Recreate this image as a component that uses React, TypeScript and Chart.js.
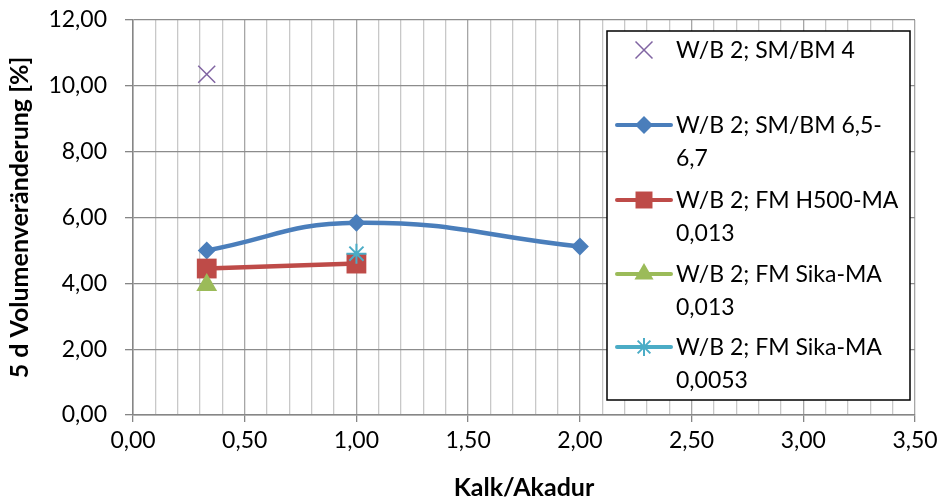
import React, { useEffect, useRef } from "react";
import { Chart, registerables } from "chart.js";

Chart.register(...registerables);

// ---- Data ----
const xSM4 = [0.33];
const ySM4 = [10.35];

const xSM65 = [0.33, 1.0, 2.0];
const ySM65 = [5.0, 5.84, 5.12];

const xH500 = [0.33, 1.0];
const yH500 = [4.45, 4.6];

const xSika013 = [0.33];
const ySika013 = [3.95];

const xSika0053 = [1.0];
const ySika0053 = [4.9];

const seriesLabels = [
  ["W/B 2; SM/BM 4"],
  ["W/B 2; SM/BM 6,5-", "6,7"],
  ["W/B 2; FM H500-MA", "0,013"],
  ["W/B 2; FM Sika-MA", "0,013"],
  ["W/B 2; FM Sika-MA", "0,0053"],
];

const xAxisTitle = "Kalk/Akadur";
const yAxisTitle = "5 d Volumenveränderung [%]";

const X_MIN = 0;
const X_MAX = 3.5;
const X_STEP = 0.1;
const Y_MIN = 0;
const Y_MAX = 12;
const Y_STEP = 2;

const COLORS = {
  purple: "#8064A2",
  blue: "#4A7EBB",
  red: "#BE4B48",
  green: "#9BBB59",
  cyan: "#4BACC6",
};

const FONT = "Lato, 'Open Sans', 'DejaVu Sans', sans-serif";
const TICK_SIZE = 23;
const TITLE_SIZE = 25;

const zip = (xs: number[], ys: number[]) => xs.map((x, i) => ({ x, y: ys[i] }));
const fmt = (v: number) => v.toFixed(2).replace(".", ",");
const isMajorX = (v: number) => Math.abs(v * 2 - Math.round(v * 2)) < 1e-6;

type Marker = "crossRot" | "rectRot" | "rect" | "triangle" | "star";

const legendDefs: { color: string; marker: Marker; line: boolean; r: number }[] = [
  { color: COLORS.purple, marker: "crossRot", line: false, r: 12 },
  { color: COLORS.blue, marker: "rectRot", line: true, r: 9 },
  { color: COLORS.red, marker: "rect", line: true, r: 12 },
  { color: COLORS.green, marker: "triangle", line: true, r: 11 },
  { color: COLORS.cyan, marker: "star", line: true, r: 9 },
];

function drawMarker(ctx: CanvasRenderingContext2D, m: Marker, x: number, y: number, r: number, color: string) {
  ctx.save();
  ctx.fillStyle = color;
  ctx.strokeStyle = color;
  ctx.beginPath();
  if (m === "rectRot") {
    ctx.moveTo(x - r, y);
    ctx.lineTo(x, y - r);
    ctx.lineTo(x + r, y);
    ctx.lineTo(x, y + r);
    ctx.closePath();
    ctx.fill();
  } else if (m === "rect") {
    const s = r * Math.SQRT1_2;
    ctx.rect(x - s, y - s, 2 * s, 2 * s);
    ctx.fill();
  } else if (m === "triangle") {
    ctx.moveTo(x, y - r);
    ctx.lineTo(x + r * Math.sin((2 * Math.PI) / 3), y + r * 0.5);
    ctx.lineTo(x - r * Math.sin((2 * Math.PI) / 3), y + r * 0.5);
    ctx.closePath();
    ctx.fill();
  } else if (m === "crossRot") {
    const s = r * Math.SQRT1_2;
    ctx.lineWidth = 1.5;
    ctx.moveTo(x - s, y - s);
    ctx.lineTo(x + s, y + s);
    ctx.moveTo(x + s, y - s);
    ctx.lineTo(x - s, y + s);
    ctx.stroke();
  } else if (m === "star") {
    const s = r * Math.SQRT1_2;
    ctx.lineWidth = 2;
    ctx.moveTo(x, y - r);
    ctx.lineTo(x, y + r);
    ctx.moveTo(x - s, y - s);
    ctx.lineTo(x + s, y + s);
    ctx.moveTo(x + s, y - s);
    ctx.lineTo(x - s, y + s);
    ctx.stroke();
  }
  ctx.restore();
}

const legendPlugin = {
  id: "boxLegend",
  afterDraw(chart: any) {
    const ctx: CanvasRenderingContext2D = chart.ctx;
    const a = chart.chartArea;
    const R = a.right - 5;
    const L = R - 303;
    const T = a.top + 11;
    const B = a.bottom - 15;
    ctx.save();
    ctx.fillStyle = "#ffffff";
    ctx.fillRect(L, T, R - L, B - T);
    ctx.strokeStyle = "#000000";
    ctx.lineWidth = 1.5;
    ctx.strokeRect(L, T, R - L, B - T);

    const baselines = [27, 102, 177, 251, 324];
    ctx.font = `${TICK_SIZE}px ${FONT}`;
    ctx.textAlign = "left";
    ctx.textBaseline = "alphabetic";
    legendDefs.forEach((d, i) => {
      const base = T + baselines[i];
      const sy = base - 8;
      const cx = L + 37;
      if (d.line) {
        ctx.save();
        ctx.strokeStyle = d.color;
        ctx.lineWidth = 4;
        ctx.lineCap = "round";
        ctx.beginPath();
        ctx.moveTo(L + 10, sy);
        ctx.lineTo(L + 64, sy);
        ctx.stroke();
        ctx.restore();
      }
      drawMarker(ctx, d.marker, cx, sy, d.r, d.color);
      ctx.fillStyle = "#000000";
      seriesLabels[i].forEach((t, j) => {
        ctx.fillText(t, L + 69, base + j * 33);
      });
    });
    ctx.restore();
  },
};

export default function App() {
  const ref = useRef<HTMLCanvasElement | null>(null);

  useEffect(() => {
    document.body.style.margin = "0";
    const canvas = ref.current;
    if (!canvas) return;
    const chart = new Chart(canvas, {
      type: "line",
      data: {
        datasets: [
          {
            label: seriesLabels[0].join(" "),
            data: zip(xSM4, ySM4),
            showLine: false,
            borderColor: COLORS.purple,
            backgroundColor: COLORS.purple,
            pointStyle: "crossRot",
            pointRadius: 12,
            pointBorderWidth: 1.5,
            order: 5,
          },
          {
            label: seriesLabels[1].join(" "),
            data: zip(xSM65, ySM65),
            borderColor: COLORS.blue,
            backgroundColor: COLORS.blue,
            borderWidth: 4.5,
            tension: 0.45,
            pointStyle: "rectRot",
            pointRadius: 9,
            pointBorderWidth: 0,
            order: 4,
          },
          {
            label: seriesLabels[2].join(" "),
            data: zip(xH500, yH500),
            borderColor: COLORS.red,
            backgroundColor: COLORS.red,
            borderWidth: 4.5,
            pointStyle: "rect",
            pointRadius: 14,
            pointBorderWidth: 0,
            order: 3,
          },
          {
            label: seriesLabels[3].join(" "),
            data: zip(xSika013, ySika013),
            borderColor: COLORS.green,
            backgroundColor: COLORS.green,
            borderWidth: 4.5,
            pointStyle: "triangle",
            pointRadius: 12,
            pointBorderWidth: 0,
            order: 2,
          },
          {
            label: seriesLabels[4].join(" "),
            data: zip(xSika0053, ySika0053),
            borderColor: COLORS.cyan,
            backgroundColor: COLORS.cyan,
            borderWidth: 4.5,
            pointStyle: "star",
            pointRadius: 10,
            pointBorderWidth: 2,
            order: 1,
          },
        ],
      },
      options: {
        responsive: false,
        animation: false,
        layout: { padding: { left: 0, top: 20, right: 28, bottom: 0 } },
        plugins: {
          legend: { display: false },
          tooltip: { enabled: false },
        },
        scales: {
          x: {
            type: "linear",
            min: X_MIN,
            max: X_MAX,
            afterFit: (s: any) => {
              s.height = 86;
              s.paddingLeft = 0;
              s.paddingRight = 0;
            },
            ticks: {
              stepSize: X_STEP,
              autoSkip: false,
              maxRotation: 0,
              minRotation: 0,
              padding: 5,
              color: "#000",
              font: { family: FONT, size: TICK_SIZE },
              callback: (v: any) => (isMajorX(Number(v)) ? fmt(Number(v)) : ""),
            },
            grid: {
              color: (c: any) => (c.tick && isMajorX(c.tick.value) ? "#A6A6A6" : "#C8C8C8"),
              lineWidth: 1.3,
              tickLength: 7,
              tickColor: (c: any) => (c.tick && isMajorX(c.tick.value) ? "#868686" : "rgba(0,0,0,0)"),
            },
            border: { color: "#868686", width: 1.5 },
            title: {
              display: true,
              text: xAxisTitle,
              color: "#000",
              font: { family: FONT, size: TITLE_SIZE, weight: "bold" },
              padding: { top: 0, bottom: -2 },
            },
          },
          y: {
            type: "linear",
            min: Y_MIN,
            max: Y_MAX,
            afterFit: (s: any) => {
              s.width = 133;
              s.paddingTop = 0;
              s.paddingBottom = 0;
            },
            ticks: {
              stepSize: Y_STEP,
              padding: 18,
              color: "#000",
              font: { family: FONT, size: TICK_SIZE },
              callback: (v: any) => fmt(Number(v)),
            },
            grid: {
              color: "#8C8C8C",
              lineWidth: 1.3,
              tickLength: 8,
              tickColor: "#868686",
            },
            border: { color: "#868686", width: 1.5 },
            title: {
              display: true,
              text: yAxisTitle,
              color: "#000",
              font: { family: FONT, size: TITLE_SIZE, weight: "bold" },
              padding: { top: 5, bottom: 0 },
            },
          },
        },
      },
      plugins: [legendPlugin],
    } as any);
    return () => chart.destroy();
  }, []);

  return (
    <div style={{ position: "absolute", left: 0, top: 0, width: 943, height: 501, background: "#fff" }}>
      <canvas ref={ref} width={943} height={501} style={{ display: "block" }} />
    </div>
  );
}
